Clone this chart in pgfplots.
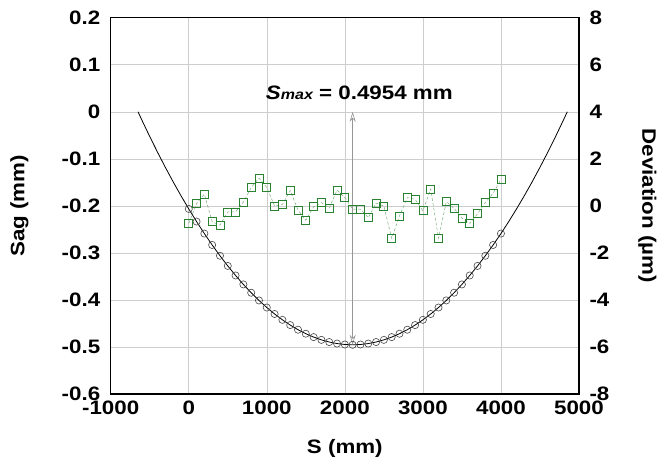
\documentclass[border=0pt]{standalone}
\usepackage{fontspec}
\setmainfont{Liberation Sans}[FakeStretch=1.15]
\usepackage{pgfplots}
\pgfplotsset{compat=1.18}
\usetikzlibrary{arrows.meta}
\definecolor{grn}{RGB}{40,130,50}
\definecolor{lgrn}{RGB}{120,175,120}
\definecolor{gridc}{RGB}{205,205,205}
\definecolor{circc}{RGB}{70,70,70}
\definecolor{arrc}{RGB}{150,150,150}
\newcommand{\tf}{\fontsize{19.5}{22}\selectfont\bfseries}

\begin{document}
\begin{tikzpicture}
\pgfplotsset{
  common/.style={
    scale only axis, width=468.3bp, height=376.3bp,
    xmin=-1000, xmax=5000,
    major tick length=0pt,
    tick label style={font=\tf},
  }
}
\begin{axis}[common,
  ymin=-0.6, ymax=0.2,
  xtick={-1000,0,1000,2000,3000,4000,5000},
  xticklabels={-1000,0,1000,2000,3000,4000,5000},
  ytick={-0.6,-0.5,-0.4,-0.3,-0.2,-0.1,0,0.1,0.2},
  yticklabels={-0.6,-0.5,-0.4,-0.3,-0.2,-0.1,0,0.1,0.2},
  xmajorgrids, ymajorgrids,
  grid style={gridc, line width=0.5pt},
  axis line style={line width=1.1pt},
  xticklabel style={yshift=-3bp},
  yticklabel style={xshift=-7bp},
  xlabel={S (mm)}, ylabel={Sag (mm)},
  every axis x label/.style={at={(axis description cs:0.5,-0.1435)}, anchor=center, font=\tf},
  every axis y label/.style={at={(axis description cs:-0.195,0.5)}, anchor=center, rotate=90, font=\tf},
]
\addplot[black, line width=0.8pt] table {
x y
-650 0
-600 -0.01785
-500 -0.05257
-400 -0.08598
-300 -0.11808
-200 -0.14887
-100 -0.17834
0 -0.20651
100 -0.23337
200 -0.25892
300 -0.28316
400 -0.30608
500 -0.32770
600 -0.34801
700 -0.36701
800 -0.38469
900 -0.40107
1000 -0.41614
1100 -0.42989
1200 -0.44234
1300 -0.45347
1400 -0.46330
1500 -0.47182
1600 -0.47902
1700 -0.48492
1800 -0.48951
1900 -0.49278
2000 -0.49475
2100 -0.49540
2200 -0.49475
2300 -0.49278
2400 -0.48951
2500 -0.48492
2600 -0.47902
2700 -0.47182
2800 -0.46330
2900 -0.45347
3000 -0.44234
3100 -0.42989
3200 -0.41614
3300 -0.40107
3400 -0.38469
3500 -0.36701
3600 -0.34801
3700 -0.32770
3800 -0.30608
3900 -0.28316
4000 -0.25892
4100 -0.23337
4200 -0.20651
4300 -0.17834
4400 -0.14887
4500 -0.11808
4600 -0.08598
4700 -0.05257
4800 -0.01785
4850 0
};
\addplot[only marks, mark=o, mark size=3.6bp, mark options={draw=circc, line width=0.6pt}] table {
x y
0 -0.20651
100 -0.23337
200 -0.25892
300 -0.28316
400 -0.30608
500 -0.32770
600 -0.34801
700 -0.36701
800 -0.38469
900 -0.40107
1000 -0.41614
1100 -0.42989
1200 -0.44234
1300 -0.45347
1400 -0.46330
1500 -0.47182
1600 -0.47902
1700 -0.48492
1800 -0.48951
1900 -0.49278
2000 -0.49475
2100 -0.49540
2200 -0.49475
2300 -0.49278
2400 -0.48951
2500 -0.48492
2600 -0.47902
2700 -0.47182
2800 -0.46330
2900 -0.45347
3000 -0.44234
3100 -0.42989
3200 -0.41614
3300 -0.40107
3400 -0.38469
3500 -0.36701
3600 -0.34801
3700 -0.32770
3800 -0.30608
3900 -0.28316
4000 -0.25892
};
\draw[arrc, line width=0.6pt, {Stealth[open,length=10bp,width=6bp]}-{Stealth[open,length=10bp,width=6bp]}] (axis cs:2100,0) -- (axis cs:2100,-0.4954);
\node[anchor=base, font=\tf] at (axis cs:2186,0.0266) {\textit{S}{\fontsize{14}{14}\selectfont\itshape max} = 0.4954 mm};
\end{axis}
\begin{axis}[common,
  axis y line*=right, axis x line=none,
  ymin=-8, ymax=8,
  ytick={-8,-6,-4,-2,0,2,4,6,8},
  yticklabels={-8,-6,-4,-2,0,2,4,6,8},
  axis line style={line width=1.1pt},
  yticklabel style={xshift=7bp},
  ylabel={Deviation (µm)},
  every axis y label/.style={at={(axis description cs:1.146,0.5)}, anchor=center, rotate=-90, font=\tf},
]
\addplot[lgrn, densely dashed, line width=0.5pt, mark=square, mark size=4bp, mark options={solid, draw=grn, fill=white, line width=0.8pt}] table {
x y
0 -0.74
100 0.10
200 0.50
300 -0.68
400 -0.82
500 -0.26
600 -0.26
700 0.16
800 0.78
900 1.18
1000 0.78
1100 -0.01
1200 0.06
1300 0.65
1400 -0.18
1500 -0.61
1600 -0.04
1700 0.14
1800 -0.09
1900 0.67
2000 0.35
2100 -0.14
2200 -0.14
2300 -0.50
2400 0.12
2500 -0.01
2600 -1.38
2700 -0.43
2800 0.35
2900 0.28
3000 -0.21
3100 0.71
3200 -1.38
3300 0.18
3400 -0.11
3500 -0.52
3600 -0.74
3700 -0.34
3800 0.14
3900 0.54
4000 1.12
};
\end{axis}
\pgfresetboundingbox
\useasboundingbox (-110.7bp,-69bp) rectangle (550.3bp,394bp);
\end{tikzpicture}
\end{document}
